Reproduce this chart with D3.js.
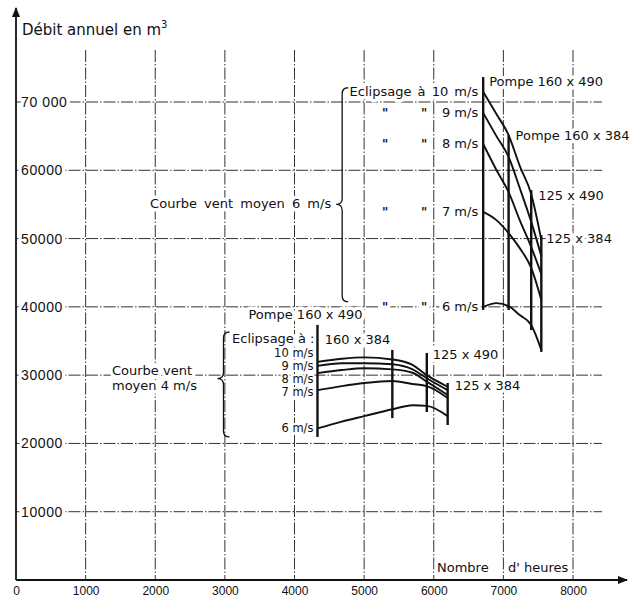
<!DOCTYPE html>
<html>
<head>
<meta charset="utf-8">
<script src="https://cdnjs.cloudflare.com/ajax/libs/d3/7.8.5/d3.min.js"></script>
<style>
  body { margin: 0; background: #fff; }
  svg { display: block; font-family: 'DejaVu Sans', sans-serif; fill: #111; }
  .halo { paint-order: stroke; stroke: #fff; stroke-width: 7px; stroke-linejoin: round; }
  .halo.thin { stroke-width: 4px; }
</style>
</head>
<body>
<svg id="chart"></svg>
<script>
// axes
const hourTicks = [0, 1000, 2000, 3000, 4000, 5000, 6000, 7000, 8000];
const volumeTicks = [10000, 20000, 30000, 40000, 50000, 60000, 70000];
const volumeTickLabels = ['10000', '20000', '30000', '40000', '50000', '60000', '70 000'];

// wind speeds at which the rotor is feathered ("éclipsage")
const cutOutSpeeds = ['10 m/s', '9 m/s', '8 m/s', '7 m/s', '6 m/s'];
const pumps = ['160 x 490', '160 x 384', '125 x 490', '125 x 384'];

// mean wind 4 m/s
const hours4 = [4330, 4680, 5000, 5405, 5695, 5900, 6200];
const vol4_10 = [31950, 32400, 32600, 32300, 31500, 30000, 28300];
const vol4_9 = [31350, 31750, 31750, 31600, 30850, 29550, 27800];
const vol4_8 = [30300, 30750, 31000, 30850, 30350, 29050, 27100];
const vol4_7 = [27800, 28400, 28850, 29150, 28700, 28400, 26650];
const vol4_6 = [22200, 23200, 24000, 25000, 25600, 25500, 24000];
const pumpHours4 = [4330, 5405, 5900, 6200];
const pumpTop4 = [37350, 33700, 33250, 28850];
const pumpBottom4 = [20950, 23700, 24600, 22700];

// mean wind 6 m/s
const hours6 = [6710, 6900, 7075, 7235, 7400, 7545];
const vol6_10 = [71500, 68250, 65150, 60650, 56500, 49800];
const vol6_9 = [68400, 65000, 61950, 57400, 52450, 47450];
const vol6_8 = [63850, 60050, 56800, 52700, 48750, 44800];
const vol6_7 = [53900, 52700, 50800, 48600, 45700, 41000];
const vol6_6 = [40000, 40550, 40100, 38800, 37350, 33700];
const pumpHours6 = [6710, 7075, 7400, 7545];
const pumpTop6 = [73650, 65150, 57100, 50500];
const pumpBottom6 = [39550, 39550, 36600, 33400];

const width = 634, height = 598;

const svg = d3.select('#chart')
  .attr('width', width)
  .attr('height', height);

const x = d3.scaleLinear().domain([0, 8000]).range([16, 573]);
const y = d3.scaleLinear().domain([0, 70000]).range([580, 102]);

// arrow head
svg.append('defs').append('marker')
  .attr('id', 'arrow')
  .attr('viewBox', '0 0 10 8')
  .attr('refX', 9).attr('refY', 4)
  .attr('markerWidth', 10).attr('markerHeight', 8)
  .attr('markerUnits', 'userSpaceOnUse')
  .attr('orient', 'auto')
  .append('path')
  .attr('d', 'M0,0 L10,4 L0,8 Z')
  .attr('fill', '#111');

// grid (chain lines)
const grid = svg.append('g')
  .attr('stroke', '#333')
  .attr('stroke-width', 1)
  .attr('stroke-dasharray', '12,2,1.5,2');

grid.selectAll('.vgrid')
  .data(hourTicks.slice(1))
  .enter().append('line')
  .attr('x1', d => x(d)).attr('x2', d => x(d))
  .attr('y1', 50).attr('y2', y(0));

grid.selectAll('.hgrid')
  .data(volumeTicks)
  .enter().append('line')
  .attr('x1', x(0)).attr('x2', 602)
  .attr('y1', d => y(d)).attr('y2', d => y(d));

// tick labels
const yAxis = d3.axisRight(y)
  .tickValues(volumeTicks)
  .tickFormat((d, i) => volumeTickLabels[i])
  .tickSize(0)
  .tickPadding(5);

const yAxisG = svg.append('g')
  .attr('transform', `translate(${x(0)},0)`)
  .call(yAxis);
yAxisG.select('.domain').remove();
yAxisG.selectAll('text')
  .attr('class', 'halo')
  .attr('font-size', 14)
  .attr('letter-spacing', 0.6)
  .attr('font-family', null)
  .attr('fill', '#111');

const xAxis = d3.axisBottom(x)
  .tickValues(hourTicks)
  .tickFormat(d3.format('d'))
  .tickSize(0)
  .tickPadding(6);

const xAxisG = svg.append('g')
  .attr('transform', `translate(0,${y(0)})`)
  .call(xAxis);
xAxisG.select('.domain').remove();
xAxisG.selectAll('text')
  .attr('font-size', 12)
  .attr('font-family', null)
  .attr('fill', '#111');

// axis lines with arrows
svg.append('line')
  .attr('x1', x(0)).attr('x2', x(0))
  .attr('y1', y(0)).attr('y2', 8)
  .attr('stroke', '#111').attr('stroke-width', 1.8)
  .attr('marker-end', 'url(#arrow)');

svg.append('line')
  .attr('x1', x(0)).attr('x2', 627)
  .attr('y1', y(0)).attr('y2', y(0))
  .attr('stroke', '#111').attr('stroke-width', 1.8)
  .attr('marker-end', 'url(#arrow)');

// axis titles
const yTitle = svg.append('text')
  .attr('x', x(0) + 6).attr('y', 35)
  .attr('font-size', 15);
yTitle.append('tspan').text('Débit annuel en m');
yTitle.append('tspan').attr('font-size', 10).attr('dy', -7).text('3');

svg.append('text')
  .attr('class', 'halo')
  .attr('x', 437).attr('y', 572)
  .attr('font-size', 13)
  .text('Nombre');
svg.append('text')
  .attr('class', 'halo')
  .attr('x', 508).attr('y', 572)
  .attr('font-size', 13)
  .text("d' heures");

// helper for annotation text
const label = (tx, ty, str, anchor = 'start', size = 13) =>
  svg.append('text')
    .attr('class', 'halo')
    .attr('x', tx).attr('y', ty)
    .attr('text-anchor', anchor)
    .attr('font-size', size)
    .text(str);

// left-pointing curly brace
const brace = (bx, y0, y1, ym, w) => {
  const r = 6;
  svg.append('path')
    .attr('d', `M${bx + w},${y0} Q${bx},${y0} ${bx},${y0 + r} L${bx},${ym - r}` +
      ` Q${bx},${ym} ${bx - w},${ym} Q${bx},${ym} ${bx},${ym + r}` +
      ` L${bx},${y1 - r} Q${bx},${y1} ${bx + w},${y1}`)
    .attr('fill', 'none')
    .attr('stroke', '#111')
    .attr('stroke-width', 1.3);
};

// ---- annotations, mean wind 6 m/s ----
const vols6 = [vol6_10, vol6_9, vol6_8, vol6_7, vol6_6];
const x6 = x(pumpHours6[0]);

label(x6 - 5, y(vol6_10[0]) + 4, 'Eclipsage à ' + cutOutSpeeds[0], 'end')
  .attr('word-spacing', 2);
cutOutSpeeds.slice(1).forEach((s, i) => {
  const ty = y(vols6[i + 1][0]) + 4;
  label(x6 - 5, ty, s, 'end');
  // ditto marks
  label(x6 - 98, ty, '"', 'middle', 12).attr('font-weight', 'bold');
  label(x6 - 59, ty, '"', 'middle', 12).attr('font-weight', 'bold');
});
label(x6 + 6, y(pumpTop6[0]) + 9, 'Pompe ' + pumps[0]);
label(x(pumpHours6[1]) + 7, y(pumpTop6[1]) + 5, 'Pompe ' + pumps[1]);
label(x(pumpHours6[2]) + 7, y(pumpTop6[2]) + 10, pumps[2]);
label(x(pumpHours6[3]) + 5, y(pumpTop6[3]) + 8, pumps[3]);

brace(x6 - 141, y(vol6_10[0]) - 4, y(vol6_6[0]) - 5, y(55000), 6);
label(x6 - 152, y(55000) + 4, 'Courbe vent moyen 6 m/s', 'end')
  .attr('word-spacing', 3);

// ---- annotations, mean wind 4 m/s ----
const vols4 = [vol4_10, vol4_9, vol4_8, vol4_7, vol4_6];
const x4 = x(pumpHours4[0]);
const rowNudge4 = [-9, 0, 6, 2, 0];

label(x4 - 3, 343.3, 'Eclipsage à :', 'end');
cutOutSpeeds.forEach((s, i) => {
  label(x4 - 4, y(vols4[i][0]) + 4 + rowNudge4[i], s.replace(' ', '  '), 'end', 11.5)
    .classed('thin', true);
});
label(x4 - 12, y(pumpTop4[0]) - 6, 'Pompe ' + pumps[0], 'middle');
label(x(pumpHours4[1]) - 2, 344, pumps[1], 'end');
label(x(pumpHours4[2]) + 6, y(pumpTop4[2]) + 6, pumps[2]);
label(x(pumpHours4[3]) + 7, y(pumpTop4[3]) + 7, pumps[3]);

brace(x4 - 94, 332, y(pumpBottom4[0]), y(29500), 6);
label(112, y(29500) - 4, 'Courbe vent');
label(112, y(29500) + 11, 'moyen 4 m/s');

// ---- curves ----
const line = d3.line()
  .x(d => x(d[0]))
  .y(d => y(d[1]))
  .curve(d3.curveMonotoneX);

const curves = svg.append('g')
  .attr('fill', 'none')
  .attr('stroke', '#111')
  .attr('stroke-width', 1.9);

curves.selectAll('.c4')
  .data(vols4)
  .enter().append('path')
  .attr('d', v => line(d3.zip(hours4, v)));

curves.selectAll('.c6')
  .data(vols6)
  .enter().append('path')
  .attr('d', v => line(d3.zip(hours6, v)));

// pump limits
const pumpLines = svg.append('g')
  .attr('stroke', '#111')
  .attr('stroke-width', 2.4);

pumpLines.selectAll('.p4')
  .data(pumpHours4)
  .enter().append('line')
  .attr('x1', d => x(d)).attr('x2', d => x(d))
  .attr('y1', (d, i) => y(pumpTop4[i]))
  .attr('y2', (d, i) => y(pumpBottom4[i]));

pumpLines.selectAll('.p6')
  .data(pumpHours6)
  .enter().append('line')
  .attr('x1', d => x(d)).attr('x2', d => x(d))
  .attr('y1', (d, i) => y(pumpTop6[i]))
  .attr('y2', (d, i) => y(pumpBottom6[i]));
</script>
</body>
</html>
